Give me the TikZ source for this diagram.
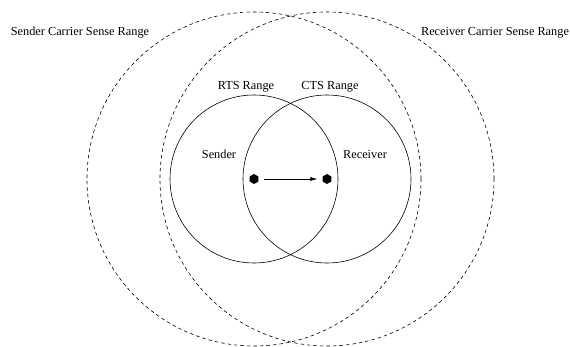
\documentclass[tikz,border=0pt]{standalone}
\usepackage{fontspec}
\setmainfont{Liberation Serif}
\usetikzlibrary{shapes,arrows.meta,positioning}

\begin{document}
\begin{tikzpicture}[x=1pt,y=-1pt,line width=.6pt,
    station/.style={regular polygon,regular polygon sides=6,shape border rotate=30,fill=black,minimum size=10pt,inner sep=0pt},
    txrange/.style={circle,draw,minimum size=168pt,inner sep=0pt},
    senserange/.style={circle,draw,dash pattern=on 3.5pt off 3pt,minimum size=334pt,inner sep=0pt},
    lbl/.style={font=\fontsize{12.3}{14}\selectfont,inner sep=0pt}]
  \useasboundingbox (0,0) rectangle (570,347);
      \node[station] (Sender)   at (254,179) {};
      \node[station] (Receiver) at (327,179) {};

      \node[txrange] (RTS) at (Sender)   {};
      \node[txrange] (CTS) at (Receiver) {};
      \node[senserange] (SenderCS)   at (Sender)   {};
      \node[senserange] (ReceiverCS) at (Receiver) {};

      \node[lbl] (RTSLabel) at (246,87)  {RTS Range};
      \node[lbl] (CTSLabel) at (330,87)  {CTS Range};
      \node[lbl] (SenderLabel)   at (219,154) {Sender};
      \node[lbl] (ReceiverLabel) at (365,154) {Receiver};
      \node[lbl] (SenderCSLabel)   at (80,33)  {Sender Carrier Sense Range};
      \node[lbl] (ReceiverCSLabel) at (495,33) {Receiver Carrier Sense Range};

      \draw[-{Latex[length=7pt,width=4pt]},line width=.6pt,shorten <=5pt,shorten >=5pt] (Sender) -- (Receiver);
\end{tikzpicture}
\end{document}
